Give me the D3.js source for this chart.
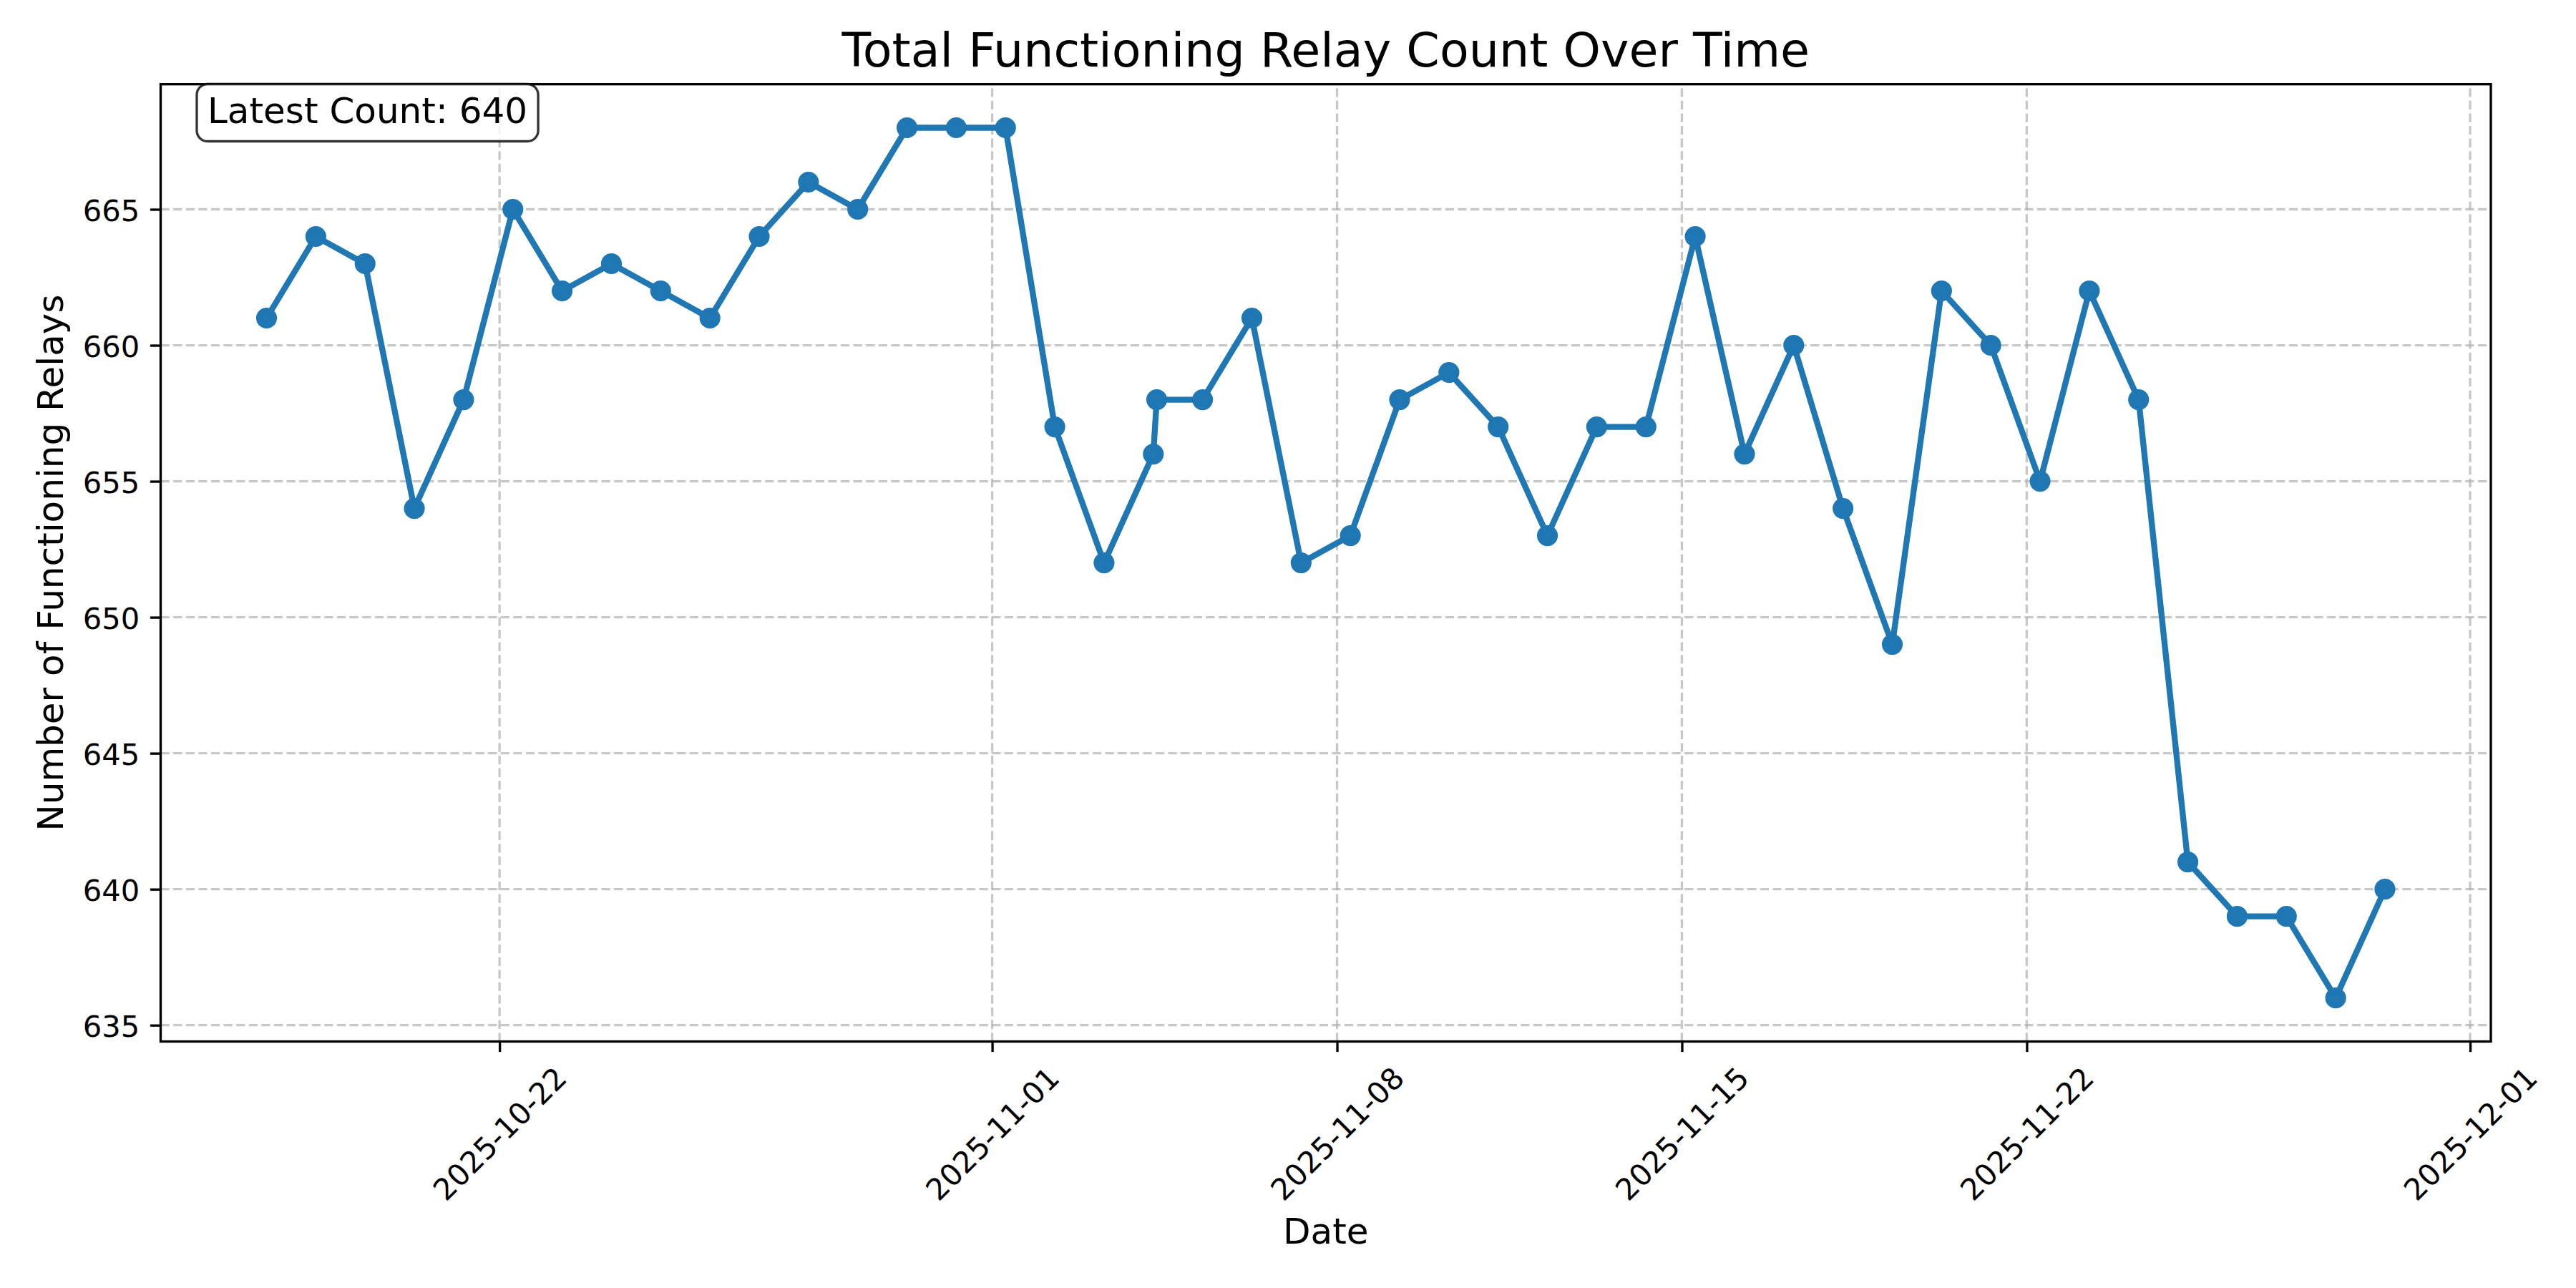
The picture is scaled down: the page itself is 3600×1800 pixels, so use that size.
<!DOCTYPE html>
<html>
<head>
<meta charset="utf-8">
<script src="https://cdn.jsdelivr.net/npm/d3@7"></script>
<style>
body { margin: 0; background: #ffffff; }
text { font-family: "DejaVu Sans", sans-serif; fill: #000000; }
</style>
</head>
<body>
<div id="chartDiv"></div>
<script>
"use strict";

// data (one reading per day, one extra on 11-04)
var dates = [
    "2025-10-17T06:30", "2025-10-18T06:30", "2025-10-19T06:30", "2025-10-20T06:30",
    "2025-10-21T06:30", "2025-10-22T06:30", "2025-10-23T06:30", "2025-10-24T06:30",
    "2025-10-25T06:30", "2025-10-26T06:30", "2025-10-27T06:30", "2025-10-28T06:30",
    "2025-10-29T06:30", "2025-10-30T06:30", "2025-10-31T06:30", "2025-11-01T06:30",
    "2025-11-02T06:30", "2025-11-03T06:30", "2025-11-04T06:30", "2025-11-04T08:10",
    "2025-11-05T06:30", "2025-11-06T06:30", "2025-11-07T06:30", "2025-11-08T06:30",
    "2025-11-09T06:30", "2025-11-10T06:30", "2025-11-11T06:30", "2025-11-12T06:30",
    "2025-11-13T06:30", "2025-11-14T06:30", "2025-11-15T06:30", "2025-11-16T06:30",
    "2025-11-17T06:30", "2025-11-18T06:30", "2025-11-19T06:30", "2025-11-20T06:30",
    "2025-11-21T06:30", "2025-11-22T06:30", "2025-11-23T06:30", "2025-11-24T06:30",
    "2025-11-25T06:30", "2025-11-26T06:30", "2025-11-27T06:30", "2025-11-28T06:30",
    "2025-11-29T06:30"
];
var counts = [
    661, 664, 663, 654, 658, 665, 662, 663, 662, 661, 664, 666, 665, 668, 668,
    668, 657, 652, 656, 658, 658, 661, 652, 653, 658, 659, 657, 653, 657, 657,
    664, 656, 660, 654, 649, 662, 660, 655, 662, 658, 641, 639, 639, 636, 640
];

var xTickLabels = ["2025-10-22", "2025-11-01", "2025-11-08", "2025-11-15", "2025-11-22", "2025-12-01"];
var yTickValues = [635, 640, 645, 650, 655, 660, 665];

var titleText = "Total Functioning Relay Count Over Time";
var xLabelText = "Date";
var yLabelText = "Number of Functioning Relays";
var latestLabel = "Latest Count: ";

// svg element parameters
var svgWidth = 3600;
var svgHeight = 1800;
var plotLeft = 224.5, plotRight = 3481, plotTop = 117.7, plotBottom = 1455.5;

var lineColor = "#1f77b4";
var gridColor = "#b0b0b0";
var tickFont = 41.67;
var tickLen = 14.6;
var spineWidth = 3.33;

var parseDate = d3.utcParse("%Y-%m-%dT%H:%M");
var parseDay = d3.utcParse("%Y-%m-%d");

var points = dates.map(function (d, i) { return {t: parseDate(d), v: counts[i]}; });

// matplotlib style 5% margins around the data
var tExtent = d3.extent(points, function (d) { return d.t; });
var vExtent = d3.extent(points, function (d) { return d.v; });
var tPad = (tExtent[1] - tExtent[0]) * 0.05;
var vPad = (vExtent[1] - vExtent[0]) * 0.05;

var xScale = d3.scaleUtc()
    .domain([new Date(+tExtent[0] - tPad), new Date(+tExtent[1] + tPad)])
    .range([plotLeft, plotRight]);
var yScale = d3.scaleLinear()
    .domain([vExtent[0] - vPad, vExtent[1] + vPad])
    .range([plotBottom, plotTop]);

var xTicks = xTickLabels.map(function (s) { return parseDay(s); });

var svg = d3.select("#chartDiv").append("svg")
    .attr("width", svgWidth).attr("height", svgHeight);

svg.append("rect").attr("width", svgWidth).attr("height", svgHeight).attr("fill", "#ffffff");

// grid lines
var grid = svg.append("g").attr("class", "grid")
    .attr("stroke", gridColor).attr("stroke-opacity", 0.7)
    .attr("stroke-width", spineWidth).attr("stroke-dasharray", "12.3,5.3");

grid.selectAll("line.gx").data(xTicks).enter().append("line")
    .attr("class", "gx")
    .attr("x1", function (d) { return xScale(d); }).attr("x2", function (d) { return xScale(d); })
    .attr("y1", plotBottom).attr("y2", plotTop);

grid.selectAll("line.gy").data(yTickValues).enter().append("line")
    .attr("class", "gy")
    .attr("y1", function (d) { return yScale(d); }).attr("y2", function (d) { return yScale(d); })
    .attr("x1", plotLeft).attr("x2", plotRight);

// axes, built with d3 axis generators then styled
var xAxis = d3.axisBottom(xScale)
    .tickValues(xTicks)
    .tickSize(tickLen)
    .tickPadding(0)
    .tickFormat(d3.utcFormat("%Y-%m-%d"));

var xAxisG = svg.append("g").attr("transform", "translate(0," + plotBottom + ")").call(xAxis);
xAxisG.select(".domain").remove();
xAxisG.selectAll(".tick line").attr("stroke", "#000").attr("stroke-width", spineWidth);
xAxisG.selectAll(".tick text")
    .attr("font-size", tickFont)
    .attr("text-anchor", "middle")
    .attr("dominant-baseline", "central")
    .attr("y", 0)
    .attr("dy", null)
    .attr("transform", "translate(0,129) rotate(-45)");

var yAxis = d3.axisLeft(yScale)
    .tickValues(yTickValues)
    .tickSize(tickLen)
    .tickPadding(tickLen);

var yAxisG = svg.append("g").attr("transform", "translate(" + plotLeft + ",0)").call(yAxis);
yAxisG.select(".domain").remove();
yAxisG.selectAll(".tick line").attr("stroke", "#000").attr("stroke-width", spineWidth);
yAxisG.selectAll(".tick text")
    .attr("font-size", tickFont)
    .attr("dy", null)
    .attr("y", 16);

// data line and markers
var line = d3.line()
    .x(function (d) { return xScale(d.t); })
    .y(function (d) { return yScale(d.v); });

svg.append("path")
    .datum(points)
    .attr("d", line)
    .attr("fill", "none")
    .attr("stroke", lineColor)
    .attr("stroke-width", 8.33)
    .attr("stroke-linejoin", "round")
    .attr("stroke-linecap", "square");

svg.append("g").selectAll("circle").data(points).enter().append("circle")
    .attr("cx", function (d) { return xScale(d.t); })
    .attr("cy", function (d) { return yScale(d.v); })
    .attr("r", 12.5)
    .attr("fill", lineColor)
    .attr("stroke", lineColor)
    .attr("stroke-width", 4.17);

// spines on top
svg.append("rect")
    .attr("x", plotLeft).attr("y", plotTop)
    .attr("width", plotRight - plotLeft).attr("height", plotBottom - plotTop)
    .attr("fill", "none").attr("stroke", "#000").attr("stroke-width", spineWidth);

// latest count annotation box
var latest = counts[counts.length - 1];
var boxG = svg.append("g");
var boxText = boxG.append("text")
    .attr("x", 290).attr("y", 172)
    .attr("font-size", 50)
    .text(latestLabel + latest);
var bb = boxText.node().getBBox();
boxG.insert("rect", "text")
    .attr("x", 290 - 15).attr("y", 117.5)
    .attr("width", bb.width + 30).attr("height", 80)
    .attr("rx", 15).attr("ry", 15)
    .attr("fill", "#ffffff").attr("fill-opacity", 0.8)
    .attr("stroke", "#000").attr("stroke-opacity", 0.8).attr("stroke-width", 3.33);

// title and axis labels
svg.append("text")
    .attr("x", (plotLeft + plotRight) / 2).attr("y", 93)
    .attr("text-anchor", "middle").attr("font-size", 66.67)
    .text(titleText);

svg.append("text")
    .attr("x", (plotLeft + plotRight) / 2).attr("y", 1738)
    .attr("text-anchor", "middle").attr("font-size", 50)
    .text(xLabelText);

svg.append("text")
    .attr("transform", "translate(88," + ((plotTop + plotBottom) / 2) + ") rotate(-90)")
    .attr("text-anchor", "middle").attr("font-size", 50)
    .text(yLabelText);
</script>
</body>
</html>
